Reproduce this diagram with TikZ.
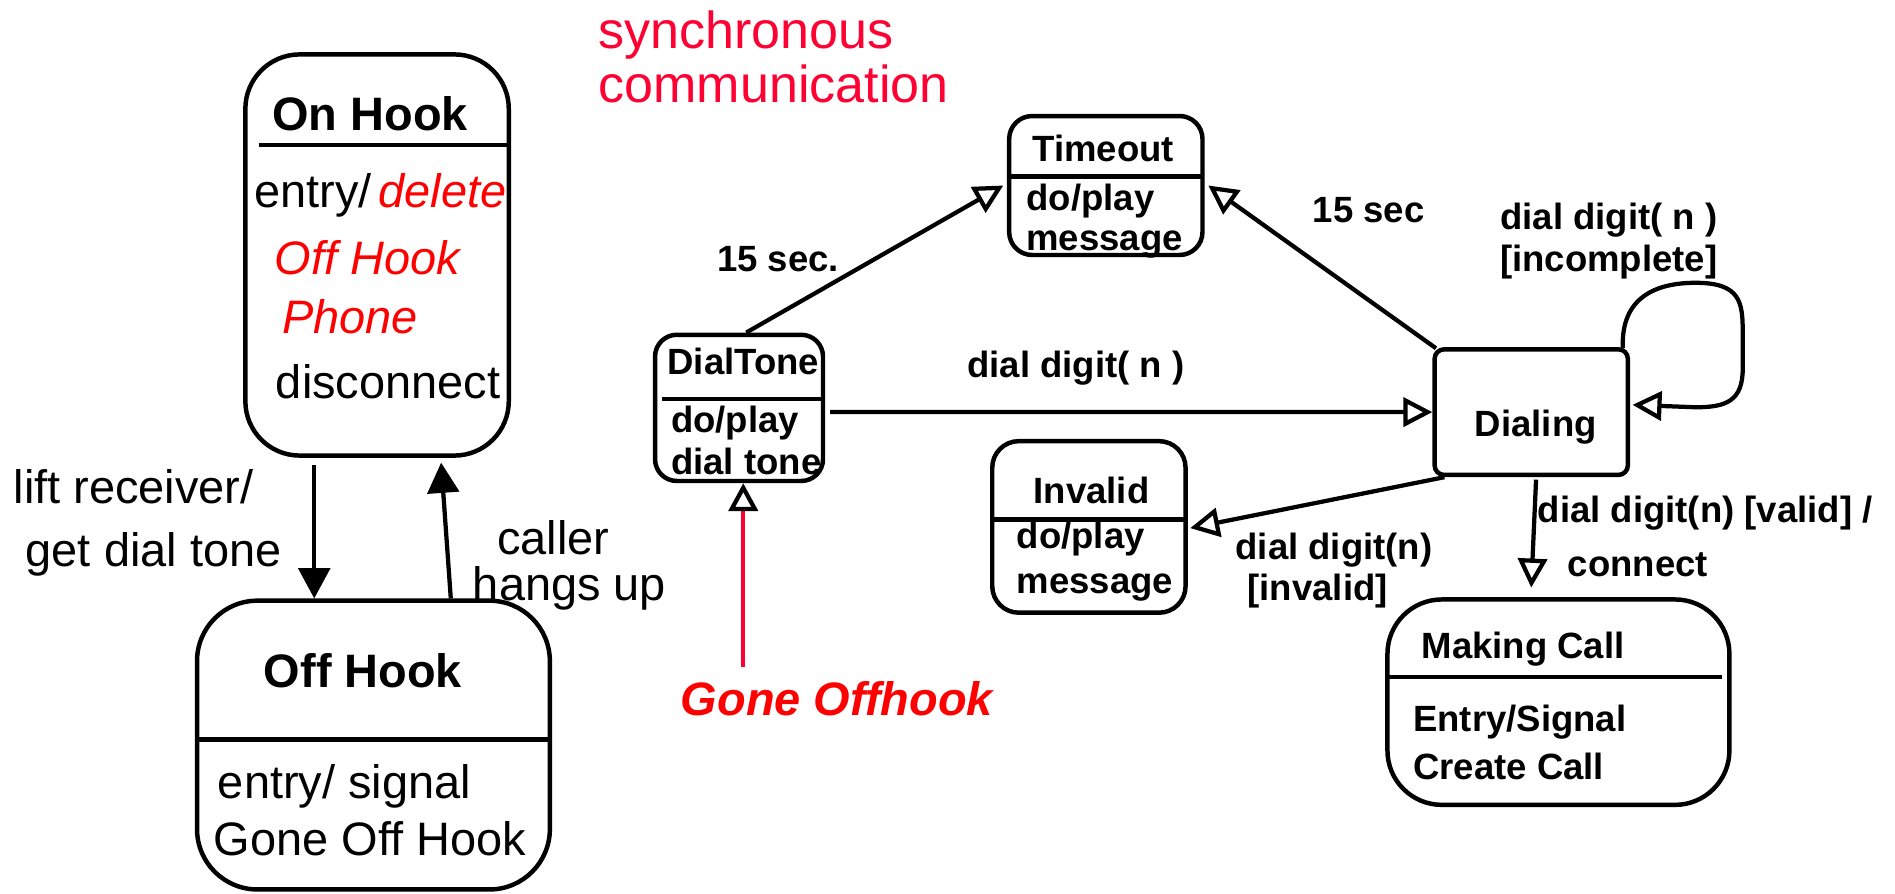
\documentclass[tikz,border=0pt]{standalone}
\usepackage{fontspec}
\setmainfont{Liberation Sans}
\usetikzlibrary{arrows.meta,calc}
\definecolor{syncred}{RGB}{255,0,51}
\definecolor{notered}{RGB}{255,0,0}

\begin{document}
\begin{tikzpicture}[x=0.02cm,y=-0.02cm,
  state/.style={draw,line width=2.1pt,rectangle,inner sep=0pt},
  txt/.style={anchor=base west,inner sep=0pt},
  bigrm/.style={font=\fontsize{22.1}{26}\selectfont},
  bigbf/.style={font=\fontsize{22.1}{26}\selectfont\bfseries},
  bigit/.style={font=\fontsize{22.1}{26}\selectfont\itshape,text=notered},
  lbl/.style={font=\fontsize{17.2}{20}\selectfont\bfseries},
  sep/.style={line width=2.1pt},
  flow/.style={line width=2pt,-{Triangle[length=0.48cm,width=0.48cm,fill=white]}},
  solidflow/.style={line width=2pt,-{Triangle[length=0.5cm,width=0.52cm]}},
]
\useasboundingbox (0,0) rectangle (1568,739);

% ---------------- states ----------------
\node[state,minimum width=4.36cm,minimum height=6.64cm,rounded corners=0.9cm] (onhook) at (312,211) {};
\node[state,minimum width=5.84cm,minimum height=4.78cm,rounded corners=1.0cm] (offhook) at (309,616.5) {};
\node[state,minimum width=2.78cm,minimum height=2.42cm,rounded corners=0.36cm] (dialtone) at (611.5,337.5) {};
\node[state,minimum width=3.2cm,minimum height=2.3cm,rounded corners=0.38cm] (timeout) at (915,153.5) {};
\node[state,minimum width=3.2cm,minimum height=2.08cm,rounded corners=0.16cm] (dialing) at (1267,341) {};
\node[state,minimum width=3.2cm,minimum height=2.84cm,rounded corners=0.44cm] (invalid) at (901,436) {};
\node[state,minimum width=5.66cm,minimum height=3.4cm,rounded corners=0.9cm] (makingcall) at (1289.5,581) {};

% compartment separators
\draw[sep] (214,120) -- (421,120);
\draw[sep] (163,612) -- (455,612);
\draw[sep] (548,330) -- (682,330);
\draw[sep] (835,146) -- (996,146);
\draw[sep] (821,430) -- (983,430);
\draw[sep] (1148,560) -- (1425,560);

% ---------------- state texts ----------------
\node[txt,bigbf] (onhookTitle) at (225,108) {On Hook};
\node[txt,bigrm] (onhookEntry) at (210,172) {entry/};
\node[txt,bigit] (onhookDel) at (313,172) {delete};
\node[txt,bigit] (onhookOff) at (227,227) {Off Hook};
\node[txt,bigit] (onhookPhone) at (233,276) {Phone};
\node[txt,bigrm] (onhookDisc) at (228,330) {disconnect};

\node[txt,bigbf] (offhookTitle) at (218,569) {Off Hook};
\node[txt,bigrm] (offhookEntry) at (180,660.5) {entry/ signal};
\node[txt,bigrm] (offhookGone) at (176.5,707.5) {Gone Off Hook};

\node[txt,lbl] (dialtoneTitle) at (552,310) {DialTone};
\node[txt,lbl] (dialtoneDo) at (555,358) {do/play};
\node[txt,lbl] (dialtoneTone) at (555,393) {dial tone};

\node[txt,lbl] (timeoutTitle) at (854,134) {Timeout};
\node[txt,lbl] (timeoutDo) at (849,174) {do/play};
\node[txt,lbl] (timeoutMsg) at (849,207) {message};

\node[txt,lbl] (dialingTitle) at (1220,361) {Dialing};

\node[txt,lbl] (invalidTitle) at (855,417) {Invalid};
\node[txt,lbl] (invalidDo) at (841,454) {do/play};
\node[txt,lbl] (invalidMsg) at (841,491) {message};

\node[txt,lbl] (makingTitle) at (1176,545) {Making Call};
\node[txt,lbl] (makingEntry) at (1169,605) {Entry/Signal};
\node[txt,lbl] (makingCreate) at (1169,645) {Create Call};

% ---------------- free texts ----------------
\node[txt,font=\fontsize{24.5}{28}\selectfont,text=syncred] (syncA) at (495,40) {synchronous};
\node[txt,font=\fontsize{24.5}{28}\selectfont,text=syncred] (syncB) at (495,85) {communication};
\node[txt,font=\fontsize{22.1}{26}\selectfont\bfseries\itshape,text=notered] (gone) at (563,592) {Gone Offhook};

% ---------------- transition labels ----------------
\node[txt,bigrm] (liftA) at (11,417) {lift receiver/};
\node[txt,bigrm] (liftB) at (21,469) {get dial tone};
\node[txt,bigrm] (hangA) at (411,459) {caller};
\node[txt,bigrm] (hangB) at (391,497) {hangs up};

\node[txt,lbl] (lblTimeoutA) at (593,225) {15 sec.};
\node[txt,lbl] (lblTimeoutB) at (1086,184) {15 sec};
\node[txt,lbl] (lblDigit) at (800,312) {dial digit( n )};
\node[txt,lbl] (lblLoopA) at (1241,190) {dial digit( n )};
\node[txt,lbl] (lblLoopB) at (1241,225) {[incomplete]};
\node[txt,lbl] (lblInvA) at (1022,463) {dial digit(n)};
\node[txt,lbl] (lblInvB) at (1032,497) {[invalid]};
\node[txt,lbl] (lblValidA) at (1272,432) {dial digit(n) [valid] /};
\node[txt,lbl] (lblValidB) at (1297,477) {connect};

% ---------------- transitions ----------------
\draw[solidflow] ($(onhook.south)+(-52,6)$) -- ($(offhook.north)+(-49,0)$);
\draw[solidflow] ($(offhook.north)+(64,0)$) -- ($(onhook.south)+(53,4)$);

\draw[flow] ($(dialtone.north)+(6,0)$) -- ($(timeout.west)+(-3,0)$);
\draw[flow] ($(dialing.north west)+(3,1)$) -- ($(timeout.east)+(3,0)$);
\draw[flow] ($(dialtone.east)+(4,3.5)$) -- (dialing.west);
\draw[flow] ($(dialing.south west)+(10,0)$) -- ($(invalid.east)+(2,1)$);
\draw[flow] ($(dialing.south)+(4,2)$) -- ($(makingcall.north)+(-22.5,-8)$);
\draw[flow] ($(dialing.north east)+(-6,1)$)
  .. controls (1341,250) and (1365,234) .. (1403,234)
  .. controls (1440,234) and (1442,250) .. (1442,275)
  -- (1442,305)
  .. controls (1442,332) and (1428,337) .. (1403,337)
  -- ($(dialing.east)+(2,-6)$);

\coordinate (goneTail) at (615,552);
\draw[line width=2pt,draw=syncred,-{Triangle[length=0.46cm,width=0.48cm,color=black,fill=white]}]
  (goneTail) -- (goneTail |- dialtone.south);
\end{tikzpicture}
\end{document}
